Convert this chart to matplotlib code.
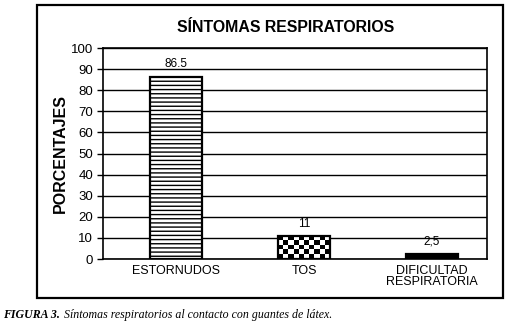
import numpy as np
import matplotlib
matplotlib.use("Agg")
import matplotlib.pyplot as plt
from matplotlib.patches import Rectangle

plt.rcParams['font.family'] = ['Liberation Sans', 'DejaVu Sans']
plt.rcParams['hatch.linewidth'] = 1.0

# data
categories = ["ESTORNUDOS", "TOS", "DIFICULTAD\nRESPIRATORIA"]
values = [86.5, 11, 2.5]
value_labels = ["86.5", "11", "2,5"]
yticks = list(range(0, 101, 10))

fig = plt.figure(figsize=(5.1, 3.23), dpi=100)
ax = fig.add_axes([0.202, 0.198, 0.753, 0.653])

# outer frame around the chart
fig.patches.append(Rectangle((37/510, 1-298/323), 466/510, 293/323, transform=fig.transFigure,
                             fill=False, edgecolor="black", linewidth=1.6))

ax.set_axisbelow(True)
ax.yaxis.grid(True, color="black", linewidth=1.0)
x = np.arange(len(categories))
bars = ax.bar(x, values, width=0.4, color="white", edgecolor="black", linewidth=1.6)
bars[0].set_hatch("----")
bars[2].set_facecolor("black")

# checkerboard fill for TOS
b = bars[1]
b.set_facecolor("none")
board = (np.add.outer(np.arange(5), np.arange(10)) % 2)
img = ax.imshow(board, cmap="gray", extent=(b.get_x(), b.get_x() + b.get_width(), 0, b.get_height()),
                aspect="auto", interpolation="nearest", zorder=b.get_zorder() - 0.1)
img.set_clip_path(b)

for xi, v, lab in zip(x, values, value_labels):
    ax.text(xi, v + 3, lab, ha="center", va="bottom", fontsize=8.5)

ax.set_xlim(-0.57, 2.43)
ax.set_ylim(0, 100)
ax.set_yticks(yticks)
ax.set_xticks(x)
ax.set_xticklabels(categories, fontsize=9, linespacing=0.95)
ax.tick_params(axis="x", length=0, pad=4)
ax.tick_params(axis="y", labelsize=9.5, length=4, width=1, pad=3)
for s in ax.spines.values():
    s.set_linewidth(1.2)

ax.set_ylabel("PORCENTAJES", fontsize=11.5, fontweight="bold", labelpad=2)
fig.text(286/510, 1-27/323, "SÍNTOMAS RESPIRATORIOS", ha="center", va="center",
         fontsize=11.4, fontweight="bold")

fig.text(3/510, 1-315/323, "FIGURA 3.", family="Liberation Serif", fontsize=8.6,
         fontweight="bold", style="italic", va="center")
fig.text(64/510, 1-315/323, "Síntomas respiratorios al contacto con guantes de látex.",
         family="Liberation Serif", fontsize=8.6, style="italic", va="center")

fig.savefig("out.png", dpi=100)
